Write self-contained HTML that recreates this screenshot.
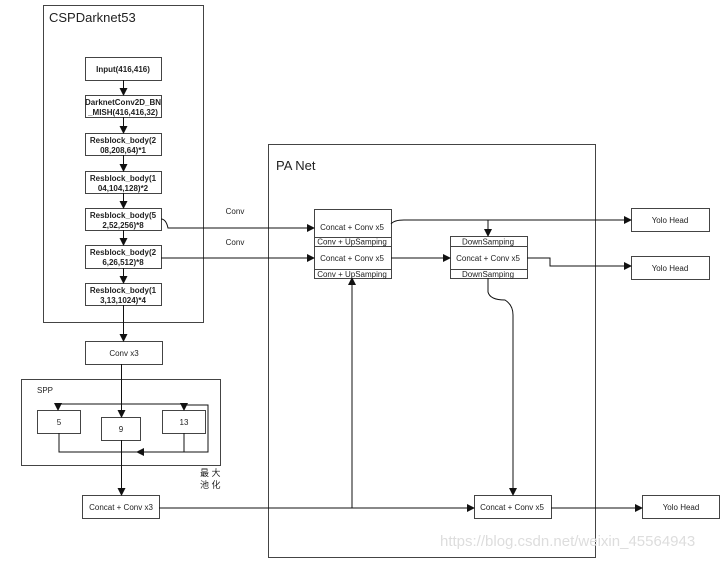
<!DOCTYPE html>
<html><head><meta charset="utf-8"><style>
body{margin:0;background:#fff}
text{font-family:"Liberation Sans","Noto Sans CJK SC",sans-serif;fill:#222}
.b{font-weight:bold;font-size:8px}
.s{font-size:8px}
</style></head><body>
<svg width="720" height="560" xmlns="http://www.w3.org/2000/svg">
<defs><marker id="a" markerWidth="8" markerHeight="8" refX="7" refY="4" orient="auto" markerUnits="userSpaceOnUse"><path d="M0,0L8,4L0,8z" fill="#111"/></marker></defs>
<g fill="none" stroke="#444" stroke-width="1">
<rect x="43.5" y="5.5" width="160" height="317"/>
<rect x="268.5" y="144.5" width="327" height="413"/>
<rect x="21.5" y="379.5" width="199" height="86"/>
</g>
<text x="49" y="22" font-size="13">CSPDarknet53</text>
<text x="276" y="170" font-size="13">PA Net</text>
<text x="37" y="393" class="s">SPP</text>
<text x="200" y="476" font-size="9">最 大</text>
<text x="200" y="488" font-size="9">池 化</text>
<g fill="#fff" stroke="#444">
<rect x="85.5" y="57.5" width="76" height="23"/>
<rect x="85.5" y="95.5" width="76" height="22"/>
<rect x="85.5" y="133.5" width="76" height="22"/>
<rect x="85.5" y="171.5" width="76" height="22"/>
<rect x="85.5" y="208.5" width="76" height="22"/>
<rect x="85.5" y="245.5" width="76" height="23"/>
<rect x="85.5" y="283.5" width="76" height="22"/>
<rect x="85.5" y="341.5" width="77" height="23"/>
<rect x="37.5" y="410.5" width="43" height="23"/>
<rect x="101.5" y="417.5" width="39" height="23"/>
<rect x="162.5" y="410.5" width="43" height="23"/>
<rect x="82.5" y="495.5" width="77" height="23"/>
<rect x="314.5" y="209.5" width="77" height="69"/>
<rect x="450.5" y="236.5" width="77" height="42"/>
<rect x="631.5" y="208.5" width="78" height="23"/>
<rect x="631.5" y="256.5" width="78" height="23"/>
<rect x="474.5" y="495.5" width="77" height="23"/>
<rect x="642.5" y="495.5" width="77" height="23"/>
</g>
<g stroke="#444" fill="none">
<path d="M314 237.5H391M314 246.5H391M314 269.5H391M450 246.5H527M450 269.5H527"/>
</g>
<g stroke="#111" fill="none" marker-end="url(#a)">
<path d="M123.5 80V95"/><path d="M123.5 117V133"/><path d="M123.5 155V171"/><path d="M123.5 193V208"/><path d="M123.5 230V245"/><path d="M123.5 268V283"/><path d="M123.5 305V341"/>
<path d="M121.5 364V417"/>
<path d="M121.5 440V495"/>
<path d="M121.5 404H58V410"/>
<path d="M121.5 404H184V410"/>
<path d="M184 433V452H137"/>
<path d="M59 433V452H137" marker-end="none"/>
<path d="M184 405H208V452H180" marker-end="none"/>
<path d="M161 219Q166 219 168 228H314"/>
<path d="M161 258H314"/>
<path d="M391 258H450"/>
<path d="M391 224Q394 220 404 220H488V236"/>
<path d="M488 220H631"/>
<path d="M527 258H550V266H631"/>
<path d="M488 278V292Q490 300 505 300Q513 305 513 315V495"/>
<path d="M159 508H474"/>
<path d="M352 508V278"/>
<path d="M551 508H642"/>
</g>
<g text-anchor="middle">
<text x="123" y="72" class="b">Input(416,416)</text>
<text x="123" y="105" class="b" font-size="7.5">DarknetConv2D_BN</text>
<text x="123" y="115" class="b" font-size="7.5">_MISH(416,416,32)</text>
<text x="123" y="143" class="b">Resblock_body(2</text><text x="123" y="153" class="b">08,208,64)*1</text>
<text x="123" y="181" class="b">Resblock_body(1</text><text x="123" y="191" class="b">04,104,128)*2</text>
<text x="123" y="218" class="b">Resblock_body(5</text><text x="123" y="228" class="b">2,52,256)*8</text>
<text x="123" y="255" class="b">Resblock_body(2</text><text x="123" y="265" class="b">6,26,512)*8</text>
<text x="123" y="293" class="b">Resblock_body(1</text><text x="123" y="303" class="b">3,13,1024)*4</text>
<text x="124" y="356" class="s">Conv x3</text>
<text x="59" y="425" class="s">5</text>
<text x="121" y="432" class="s">9</text>
<text x="184" y="425" class="s">13</text>
<text x="121" y="510" class="s">Concat + Conv x3</text>
<text x="235" y="214" class="s">Conv</text>
<text x="235" y="245" class="s">Conv</text>
<text x="352" y="230" class="s">Concat + Conv x5</text>
<text x="352" y="244.5" class="s">Conv + UpSamping</text>
<text x="352" y="261" class="s">Concat + Conv x5</text>
<text x="352" y="277" class="s">Conv + UpSamping</text>
<text x="488" y="244.5" class="s">DownSamping</text>
<text x="488" y="261" class="s">Concat + Conv x5</text>
<text x="488" y="277" class="s">DownSamping</text>
<text x="670" y="223" class="s">Yolo Head</text>
<text x="670" y="271" class="s">Yolo Head</text>
<text x="512" y="510" class="s">Concat + Conv x5</text>
<text x="681" y="510" class="s">Yolo Head</text>
</g>
<text x="440" y="546" font-size="15" style="fill:#ddd">https://blog.csdn.net/weixin_45564943</text>
</svg>
</body></html>
